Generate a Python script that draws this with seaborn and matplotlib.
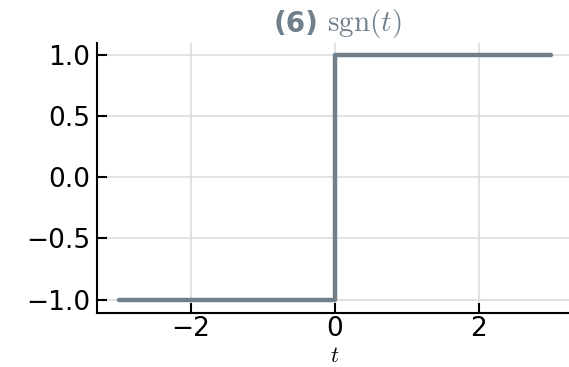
import matplotlib
matplotlib.use("Agg")
import matplotlib.pyplot as plt
import seaborn as sns
import pandas as pd

t_values = [-3.0, 0.0, 0.0, 3.0]
sgn_values = [-1.0, -1.0, 1.0, 1.0]
x_ticks = [-2, 0, 2]
y_ticks = [-1.0, -0.5, 0.0, 0.5, 1.0]

sns.set_theme(style="ticks")
plt.rcParams['font.family'] = ['DejaVu Sans']
plt.rcParams['mathtext.fontset'] = 'cm'

color = '#6f808c'
df = pd.DataFrame({'t': t_values, 'sgn': sgn_values})

fig = plt.figure(figsize=(5.69, 3.67), dpi=100)
ax = fig.add_axes([97/569, 54/367, 474/569, 270/367])
sns.lineplot(data=df, x='t', y='sgn', sort=False, estimator=None, color=color, linewidth=3.2, ax=ax)
ax.set_xlim(-3.3, 3.28)
ax.set_ylim(-1.11, 1.1)
ax.set_xticks(x_ticks)
ax.set_yticks(y_ticks)
ax.xaxis.set_major_formatter(matplotlib.ticker.FuncFormatter(lambda v, p: f"{v:.0f}".replace('-', '\u2212')))
ax.yaxis.set_major_formatter(matplotlib.ticker.FuncFormatter(lambda v, p: f"{v:.1f}".replace('-', '\u2212')))
ax.grid(True, color='#dddddd', linewidth=1.2)
ax.set_axisbelow(True)
for s in ['top', 'right']:
    ax.spines[s].set_visible(False)
for s in ['left', 'bottom']:
    ax.spines[s].set_color('black')
    ax.spines[s].set_linewidth(1.5)
ax.tick_params(direction='in', length=7, width=1.5, labelsize=19, colors='black', pad=5)
ax.tick_params(axis='x', pad=2)
ax.set_xlabel('')
ax.set_ylabel('')
fig.text(335/569, 1 - 356/367, r'$t$', fontsize=16, color='black', ha='center', va='center')
fig.text(318/569, 1 - 24/367, r'(6)', fontsize=20, fontweight='bold', color=color, ha='right', va='center')
fig.text(327/569, 1 - 24/367, r'$\mathrm{sgn}(t)$', fontsize=21, color=color, ha='left', va='center')
fig.savefig('out.png', dpi=100)
